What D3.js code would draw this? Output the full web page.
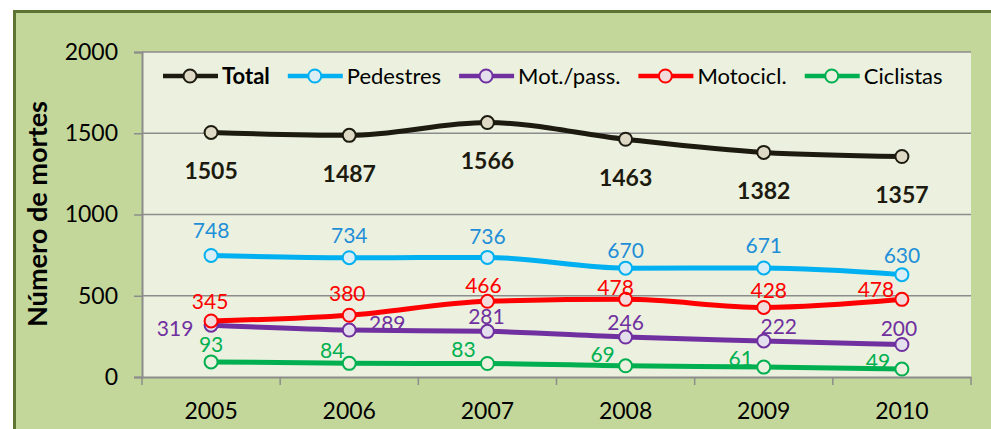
<!DOCTYPE html>
<html>
<head>
<meta charset="utf-8">
<script src="https://cdn.jsdelivr.net/npm/d3@7/dist/d3.min.js"></script>
<style>
  html, body { margin: 0; padding: 0; background: #ffffff; }
  svg { display: block; font-family: Lato, "Open Sans", sans-serif; }
</style>
</head>
<body>
<svg id="chart" width="991" height="429"></svg>
<script>
// Road deaths by victim type, 2005–2010
const years = ["2005", "2006", "2007", "2008", "2009", "2010"];
const total      = [1505, 1487, 1566, 1463, 1382, 1357];
const pedestres  = [748, 734, 736, 670, 671, 630];
const motPass    = [319, 289, 281, 246, 222, 200];
const motocicl   = [345, 380, 466, 478, 428, 478];
const ciclistas  = [93, 84, 83, 69, 61, 49];
const yTicks = [0, 500, 1000, 1500, 2000];
const yTitle = "Número de mortes";

// Series styling and label offsets (px from each point)
const series = [
  { name: "Total", values: total, stroke: "#1d1b10", fill: "#ddd9c4", label: "#1d1b10", bold: true,
    off: [[0,38],[0,38],[0,38],[0,38],[0,38],[0,38]] },
  { name: "Pedestres", values: pedestres, stroke: "#00b0f0", fill: "#dbeef6", label: "#1f8ed8",
    off: [[0,-25],[0,-22],[0,-21],[0,-18],[0,-23],[0,-19]] },
  { name: "Mot./pass.", values: motPass, stroke: "#7030a0", fill: "#e4dfec", label: "#7030a0",
    off: [[-36,3],[38,-7],[-1,-15],[0,-15],[15,-14],[-3,-16]] },
  { name: "Motocicl.", values: motocicl, stroke: "#ff0000", fill: "#f2dcdb", label: "#ff0000",
    off: [[-1,-19],[-2,-22],[-4,-16],[-10,-12],[5,-17],[-26,-10]] },
  { name: "Ciclistas", values: ciclistas, stroke: "#00b050", fill: "#ebf1de", label: "#00b050",
    off: [[0,-17],[-17,-13],[-24,-14],[-23,-11],[-23,-9],[-24,-8]] }
];

const svg = d3.select("#chart");
const plot = { left: 142, top: 52, right: 971, bottom: 377 };

// Outer chart area
svg.append("rect")
  .attr("x", 14.5).attr("y", 11.5)
  .attr("width", 1000).attr("height", 440)
  .attr("fill", "#c4d79b")
  .attr("stroke", "#5e7432").attr("stroke-width", 3);

// Plot area
svg.append("rect")
  .attr("x", plot.left).attr("y", plot.top)
  .attr("width", plot.right - plot.left).attr("height", plot.bottom - plot.top)
  .attr("fill", "#ebf1de");

const x = d3.scaleBand().domain(years).range([plot.left, plot.right]).padding(0);
const y = d3.scaleLinear().domain([0, 2000]).range([plot.bottom, plot.top]);
const cx = d => x(d) + x.bandwidth() / 2;

// Horizontal gridlines
svg.append("g").selectAll("line")
  .data(yTicks.filter(t => t > 0))
  .join("line")
  .attr("x1", plot.left).attr("x2", plot.right)
  .attr("y1", d => y(d)).attr("y2", d => y(d))
  .attr("stroke", "#8c8c8c").attr("stroke-width", 1.5);

// Y axis
const yAxis = svg.append("g")
  .attr("transform", `translate(${plot.left},0)`)
  .call(d3.axisLeft(y).tickValues(yTicks).tickSize(8).tickPadding(16).tickFormat(d3.format("d")));
yAxis.select(".domain").attr("stroke", "#8c8c8c").attr("stroke-width", 2);
yAxis.selectAll(".tick line").attr("stroke", "#8c8c8c").attr("stroke-width", 1.5);
yAxis.selectAll(".tick text")
  .attr("font-size", 23).attr("fill", "#000").attr("font-family", "Lato, sans-serif");

// X axis with ticks between categories
const xAxis = svg.append("g")
  .attr("transform", `translate(0,${plot.bottom})`)
  .call(d3.axisBottom(x).tickSize(0).tickPadding(26));
xAxis.select(".domain").attr("stroke", "#8c8c8c").attr("stroke-width", 2);
xAxis.selectAll(".tick text")
  .attr("font-size", 23).attr("fill", "#000").attr("font-family", "Lato, sans-serif");
xAxis.selectAll(".boundary")
  .data(d3.range(years.length + 1))
  .join("line")
  .attr("class", "boundary")
  .attr("x1", i => plot.left + i * x.bandwidth())
  .attr("x2", i => plot.left + i * x.bandwidth())
  .attr("y1", 0).attr("y2", 8)
  .attr("stroke", "#8c8c8c").attr("stroke-width", 1.5);

// Y axis title
svg.append("text")
  .attr("transform", `translate(47,214) rotate(-90)`)
  .attr("text-anchor", "middle")
  .attr("font-size", 26).attr("font-weight", "bold").attr("fill", "#000")
  .attr("textLength", 226).attr("lengthAdjust", "spacingAndGlyphs")
  .text(yTitle);

// Lines and markers
const line = d3.line()
  .x((d, i) => cx(years[i]))
  .y(d => y(d))
  .curve(d3.curveMonotoneX);

const marks = svg.append("g");
series.forEach(s => {
  const g = marks.append("g");
  g.append("path")
    .attr("d", line(s.values))
    .attr("fill", "none")
    .attr("stroke", s.stroke)
    .attr("stroke-width", 5)
    .attr("stroke-linejoin", "round");
  g.selectAll("circle")
    .data(s.values)
    .join("circle")
    .attr("cx", (d, i) => cx(years[i]))
    .attr("cy", d => y(d))
    .attr("r", 6.5)
    .attr("fill", s.fill)
    .attr("stroke", s.stroke)
    .attr("stroke-width", 2);
});

// Data labels
const labels = svg.append("g");
series.forEach(s => {
  labels.append("g").selectAll("text")
    .data(s.values)
    .join("text")
    .attr("x", (d, i) => cx(years[i]) + s.off[i][0])
    .attr("y", (d, i) => y(d) + s.off[i][1])
    .attr("dy", "0.36em")
    .attr("text-anchor", "middle")
    .attr("font-size", s.bold ? 23 : 21)
    .attr("font-weight", s.bold ? "bold" : "normal")
    .attr("fill", s.label)
    .text(d => d);
});

// Legend
const legend = svg.append("g").attr("transform", "translate(163,76)");
let lx = 0;
series.forEach(s => {
  const item = legend.append("g").attr("transform", `translate(${lx},0)`);
  item.append("line")
    .attr("x1", 0).attr("x2", 55)
    .attr("stroke", s.stroke).attr("stroke-width", 4.5);
  item.append("circle")
    .attr("cx", 27).attr("r", 6.5)
    .attr("fill", s.fill).attr("stroke", s.stroke).attr("stroke-width", 2);
  const t = item.append("text")
    .attr("x", 59).attr("dy", "0.36em")
    .attr("font-size", 22)
    .attr("font-weight", s.bold ? "bold" : "normal")
    .attr("fill", "#000")
    .text(s.name);
  lx += 59 + t.node().getComputedTextLength() + 18;
});
</script>
</body>
</html>
